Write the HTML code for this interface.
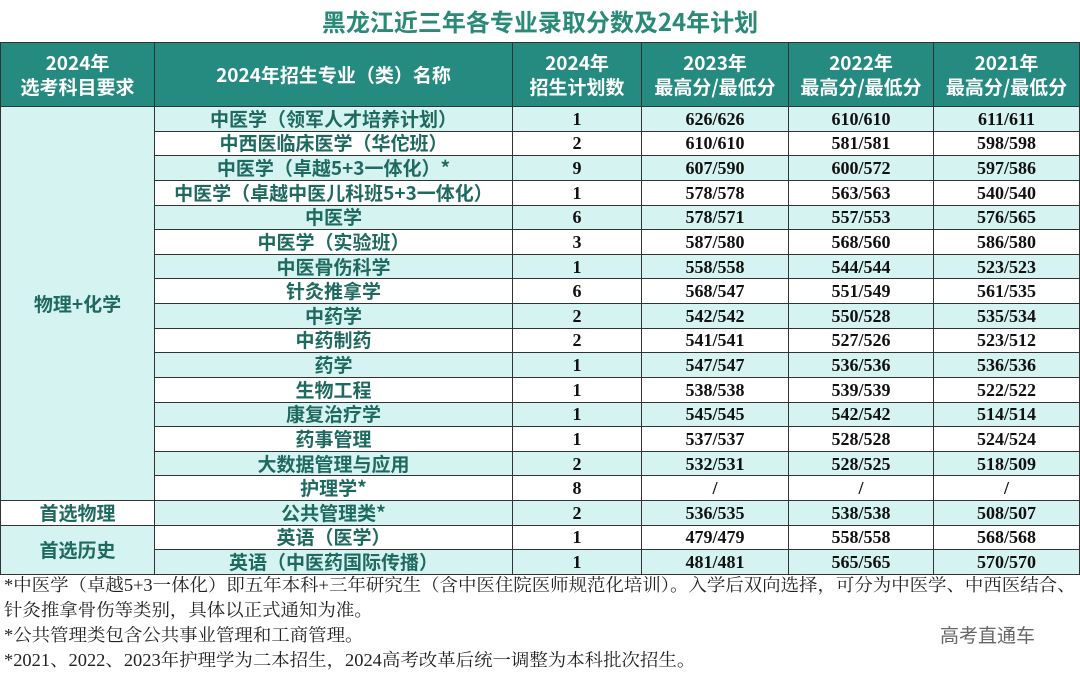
<!DOCTYPE html>
<html><head><meta charset="utf-8">
<style>
body{margin:0;width:1080px;height:674px;background:#fff;overflow:hidden;position:relative;font-family:"Liberation Sans","Noto Sans CJK SC",sans-serif}
.title{position:absolute;left:0;top:0;width:1080px;height:42px;line-height:42px;text-align:center;color:#2a8a78;font-weight:bold;font-size:24px;font-family:"Noto Sans CJK SC",sans-serif}
table{position:absolute;left:0;top:42px;border-collapse:collapse;table-layout:fixed;width:1079px}
td{border:1.5px solid #333;text-align:center;padding:0;overflow:hidden;white-space:nowrap}
th{background:#258a80;color:#fff;border:1.5px solid #333;font-size:19px;font-weight:bold;line-height:24px;height:63px;padding:0;font-family:"Noto Sans CJK SC",sans-serif}
td{height:23.63px;font-size:18px;line-height:22px}
.n{color:#1f6a60;font-weight:bold;font-family:"Noto Sans CJK SC",sans-serif;font-size:19px}
.v{font-family:"Liberation Serif",serif;font-weight:bold;color:#111;font-size:18px}
tr.c td{background:#d5f3f0}
td.g{background:#d5f3f0 !important;color:#1f6a60;font-weight:bold;font-family:"Noto Sans CJK SC",sans-serif;font-size:19px}
td.w{background:#fff !important}
.notes{position:absolute;left:4px;top:573px;font-family:"Liberation Serif","Noto Serif CJK SC",serif;font-size:17.4px;line-height:25px;color:#222;white-space:nowrap;transform:scaleX(1.06);transform-origin:0 0}
.wm{position:absolute;left:940px;top:621px;font-size:19px;color:#666;font-family:"Noto Sans CJK SC",sans-serif}
</style></head><body>
<div class="title">黑龙江近三年各专业录取分数及24年计划</div>
<table>
<colgroup><col style="width:154px"><col style="width:358px"><col style="width:129px"><col style="width:147px"><col style="width:145px"><col style="width:146px"></colgroup>
<tr><th>2024年<br>选考科目要求</th><th>2024年招生专业（类）名称</th><th>2024年<br>招生计划数</th><th>2023年<br>最高分/最低分</th><th>2022年<br>最高分/最低分</th><th>2021年<br>最高分/最低分</th></tr>
<tr class="c"><td class="g" rowspan="16">物理+化学</td><td class="n">中医学（领军人才培养计划）</td><td class="v">1</td><td class="v">626/626</td><td class="v">610/610</td><td class="v">611/611</td></tr>
<tr><td class="n">中西医临床医学（华佗班）</td><td class="v">2</td><td class="v">610/610</td><td class="v">581/581</td><td class="v">598/598</td></tr>
<tr class="c"><td class="n">中医学（卓越5+3一体化）*</td><td class="v">9</td><td class="v">607/590</td><td class="v">600/572</td><td class="v">597/586</td></tr>
<tr><td class="n">中医学（卓越中医儿科班5+3一体化）</td><td class="v">1</td><td class="v">578/578</td><td class="v">563/563</td><td class="v">540/540</td></tr>
<tr class="c"><td class="n">中医学</td><td class="v">6</td><td class="v">578/571</td><td class="v">557/553</td><td class="v">576/565</td></tr>
<tr><td class="n">中医学（实验班）</td><td class="v">3</td><td class="v">587/580</td><td class="v">568/560</td><td class="v">586/580</td></tr>
<tr class="c"><td class="n">中医骨伤科学</td><td class="v">1</td><td class="v">558/558</td><td class="v">544/544</td><td class="v">523/523</td></tr>
<tr><td class="n">针灸推拿学</td><td class="v">6</td><td class="v">568/547</td><td class="v">551/549</td><td class="v">561/535</td></tr>
<tr class="c"><td class="n">中药学</td><td class="v">2</td><td class="v">542/542</td><td class="v">550/528</td><td class="v">535/534</td></tr>
<tr><td class="n">中药制药</td><td class="v">2</td><td class="v">541/541</td><td class="v">527/526</td><td class="v">523/512</td></tr>
<tr class="c"><td class="n">药学</td><td class="v">1</td><td class="v">547/547</td><td class="v">536/536</td><td class="v">536/536</td></tr>
<tr><td class="n">生物工程</td><td class="v">1</td><td class="v">538/538</td><td class="v">539/539</td><td class="v">522/522</td></tr>
<tr class="c"><td class="n">康复治疗学</td><td class="v">1</td><td class="v">545/545</td><td class="v">542/542</td><td class="v">514/514</td></tr>
<tr><td class="n">药事管理</td><td class="v">1</td><td class="v">537/537</td><td class="v">528/528</td><td class="v">524/524</td></tr>
<tr class="c"><td class="n">大数据管理与应用</td><td class="v">2</td><td class="v">532/531</td><td class="v">528/525</td><td class="v">518/509</td></tr>
<tr><td class="n">护理学*</td><td class="v">8</td><td class="v">/</td><td class="v">/</td><td class="v">/</td></tr>
<tr class="c"><td class="g w">首选物理</td><td class="n">公共管理类*</td><td class="v">2</td><td class="v">536/535</td><td class="v">538/538</td><td class="v">508/507</td></tr>
<tr><td class="g" rowspan="2">首选历史</td><td class="n">英语（医学）</td><td class="v">1</td><td class="v">479/479</td><td class="v">558/558</td><td class="v">568/568</td></tr>
<tr class="c"><td class="n">英语（中医药国际传播）</td><td class="v">1</td><td class="v">481/481</td><td class="v">565/565</td><td class="v">570/570</td></tr>
</table>
<div class="notes">*中医学（卓越5+3一体化）即五年本科+三年研究生（含中医住院医师规范化培训）。入学后双向选择，可分为中医学、中西医结合、<br>针灸推拿骨伤等类别，具体以正式通知为准。<br>*公共管理类包含公共事业管理和工商管理。<br>*2021、2022、2023年护理学为二本招生，2024高考改革后统一调整为本科批次招生。</div>
<div class="wm">高考直通车</div>
</body></html>
